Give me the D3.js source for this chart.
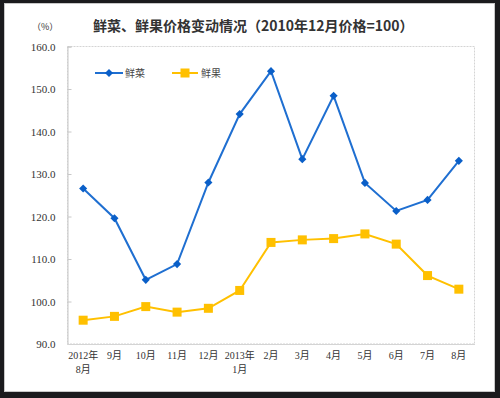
<!DOCTYPE html>
<html><head><meta charset="utf-8">
<script src="https://cdn.jsdelivr.net/npm/d3@7"></script>
<style>body{margin:0;background:#1b1b1d;}svg{display:block;}</style>
</head><body>
<script>
const categories = ["2012年\n8月","9月","10月","11月","12月","2013年\n1月","2月","3月","4月","5月","6月","7月","8月"];
const vegValues = [126.6,119.6,105.1,108.8,128.0,144.1,154.2,133.5,148.4,127.9,121.3,123.9,133.1];
const fruitValues = [95.6,96.5,98.8,97.5,98.4,102.6,113.9,114.5,114.8,115.9,113.5,106.1,102.9];
const yTicks = [90,100,110,120,130,140,150,160];
const seriesNames = ["鲜菜","鲜果"];
const title = "鲜菜、鲜果价格变动情况（2010年12月价格=100）";

const W=500,H=398;
const svg=d3.select("body").append("svg").attr("width",W).attr("height",H);
svg.append("rect").attr("x",0).attr("y",0).attr("width",W).attr("height",H).attr("fill","#1b1b1d");
svg.append("rect").attr("x",4.5).attr("y",3.5).attr("width",490).attr("height",388).attr("fill","#ffffff").attr("stroke","#c8c8c8");

const L=67.5,R=474.5,T=46.5,B=344;
const x=d3.scaleBand().domain(categories).range([L,R]);
const y=d3.scaleLinear().domain([90,160]).range([B,T]);
const numFont="'Liberation Serif','Noto Sans CJK SC',serif";
const cjkFont="'Noto Sans CJK SC',sans-serif";

// plot border
svg.append("rect").attr("x",L).attr("y",T).attr("width",R-L).attr("height",B-T)
  .attr("fill","none").attr("stroke","#d4d4d4").attr("stroke-width",1).attr("stroke-dasharray","2,1");

// y axis
const yAxis=d3.axisLeft(y).tickValues(yTicks).tickFormat(d3.format(".1f")).tickSize(-4).tickPadding(12);
const gy=svg.append("g").attr("transform",`translate(${L},0)`).call(yAxis);
gy.select(".domain").attr("stroke","#c8c8c8");
gy.selectAll(".tick line").attr("stroke","#c8c8c8");
gy.selectAll("text").attr("font-family",numFont).attr("font-size",11).attr("fill","#333");

// x axis
const xAxis=d3.axisBottom(x).tickSize(0).tickPadding(8);
const gx=svg.append("g").attr("transform",`translate(0,${B})`).call(xAxis);
gx.select(".domain").attr("stroke","#d4d4d4");
gx.selectAll(".tick text").each(function(d){
  const t=d3.select(this); t.text(null);
  d.split("\n").forEach((s,i)=>t.append("tspan").attr("x",0).attr("dy",i?"1.35em":"0.71em").text(s));
}).attr("font-family",numFont).attr("font-size",10).attr("fill","#333");

const line=d3.line().x((d,i)=>x(categories[i])+x.bandwidth()/2).y(d=>y(d));
const blue="#1f6fd1", yellow="#ffc000";
svg.append("path").datum(vegValues).attr("d",line).attr("fill","none").attr("stroke",blue).attr("stroke-width",2);
svg.append("path").datum(fruitValues).attr("d",line).attr("fill","none").attr("stroke",yellow).attr("stroke-width",2);
const diamond=d3.symbol().type(d3.symbolDiamond2).size(42);
svg.append("g").selectAll("path").data(vegValues).join("path")
  .attr("d",diamond).attr("fill","#0a5fc8")
  .attr("transform",(d,i)=>`translate(${x(categories[i])+x.bandwidth()/2},${y(d)})`);
svg.append("g").selectAll("rect").data(fruitValues).join("rect")
  .attr("width",9).attr("height",9).attr("fill",yellow)
  .attr("x",(d,i)=>x(categories[i])+x.bandwidth()/2-4.5).attr("y",d=>y(d)-4.5);

// legend
const lg=svg.append("g");
lg.append("line").attr("x1",95).attr("x2",123).attr("y1",73).attr("y2",73).attr("stroke",blue).attr("stroke-width",2);
lg.append("path").attr("d",diamond).attr("fill","#0a5fc8").attr("transform","translate(109,73)");
lg.append("text").attr("x",125).attr("y",77).text(seriesNames[0]).attr("font-family",cjkFont).attr("font-size",10).attr("fill","#444");
lg.append("line").attr("x1",172).attr("x2",198).attr("y1",73).attr("y2",73).attr("stroke",yellow).attr("stroke-width",2);
lg.append("rect").attr("x",180.5).attr("y",68.5).attr("width",9).attr("height",9).attr("fill",yellow);
lg.append("text").attr("x",201).attr("y",77).text(seriesNames[1]).attr("font-family",cjkFont).attr("font-size",10).attr("fill","#444");

// title and unit
svg.append("text").attr("x",93).attr("y",31).text(title).attr("font-family",cjkFont).attr("font-size",14).attr("font-weight","bold").attr("fill","#333");
svg.append("text").attr("x",32).attr("y",30).text("（%）").attr("font-family",cjkFont).attr("font-size",9).attr("fill","#333");
</script>
</body></html>
